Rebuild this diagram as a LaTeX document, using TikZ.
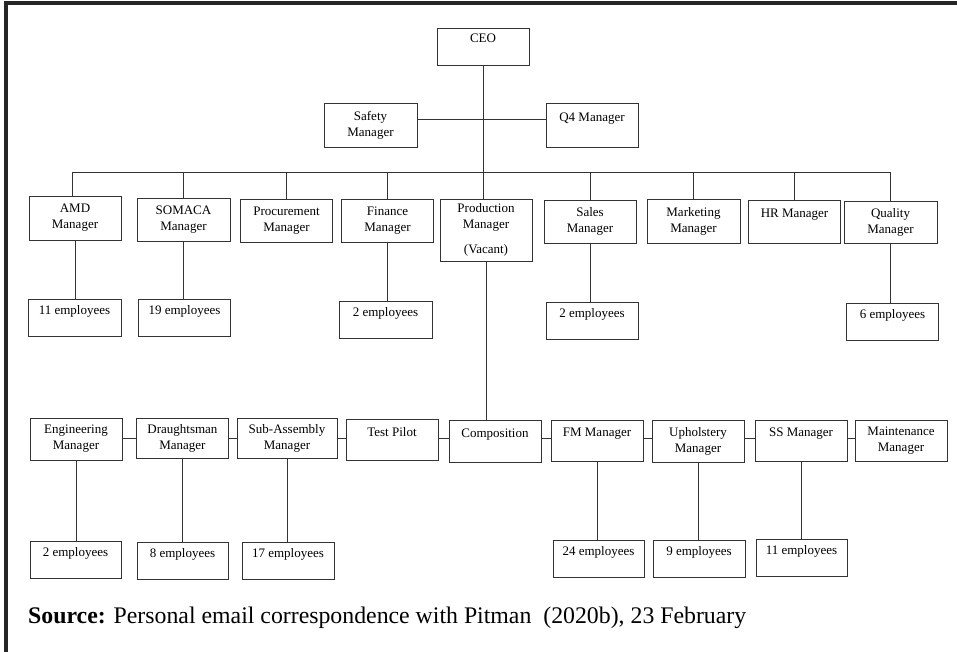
\documentclass[tikz,border=0pt]{standalone}
\usepackage{fontspec}
\setmainfont{Liberation Serif}
\usetikzlibrary{positioning,calc}
\tikzstyle{block} = [draw=black!80, line width=0.9pt, rectangle, align=center, minimum width=92pt, inner sep=2pt, font=\fontsize{13}{16}\selectfont]
\tikzstyle{staff} = [block, minimum height=37pt]
\tikzstyle{link} = [draw=black!80, line width=0.9pt]

\begin{document}
\begin{tikzpicture}[x=1pt, y=-1pt]
    \useasboundingbox (0,0) rectangle (957,652);
    \draw [line width=4pt, black!85] (6,652) -- (6,3) -- (957,3);

    % top of the chart
    \node [block, minimum height=37pt] (ceo) at (483,46.5) {CEO\\~};
    \node [block, minimum height=44pt, minimum width=93pt] (safety) at (370.5,125) {Safety\\Manager};
    \node [block, minimum height=44pt] (q4) at (592,125) {Q4 Manager\\~};

    % managers
    \node [block, minimum height=44pt] (amd) at (75,218) {AMD\\Manager};
    \node [block, minimum height=43pt, minimum width=93pt] (somaca) at (183.5,219.5) {SOMACA\\Manager};
    \node [block, minimum height=43pt] (proc) at (286.5,220.5) {Procurement\\Manager};
    \node [block, minimum height=43pt] (fin) at (387.5,220.5) {Finance\\Manager};
    \node [block, minimum height=62pt] (prod) at (486,230) {Production\\Manager\\[9pt](Vacant)};
    \node [block, minimum height=43pt] (sales) at (590,221.5) {Sales\\Manager};
    \node [block, minimum height=44pt, minimum width=93pt] (mkt) at (693.5,221) {Marketing\\Manager};
    \node [block, minimum height=43pt] (hr) at (794.5,221.5) {HR Manager\\~};
    \node [block, minimum height=42pt, minimum width=93pt] (qual) at (890.5,222) {Quality\\Manager};

    \node [staff, minimum width=93pt] (eamd) at (74.5,317.5) {11 employees\\~};
    \node [staff] (esomaca) at (184.5,318) {19 employees\\~};
    \node [staff, minimum width=93pt] (efin) at (385.5,319.5) {2 employees\\~};
    \node [staff] (esales) at (592,320.5) {2 employees\\~};
    \node [staff] (equal) at (892.5,322) {6 employees\\~};

    % production line
    \node [block, minimum height=42pt] (eng) at (76,439) {Engineering\\Manager};
    \node [block, minimum height=40pt, anchor=west] (draught) at (136,438) {Draughtsman\\Manager};
    \node [block, minimum height=40pt, minimum width=100pt] (sub) at (287,438) {Sub-Assembly\\Manager};
    \node [block, minimum height=41pt] (pilot) at (392,439.5) {Test Pilot\\~};
    \node [block, minimum height=42pt] (comp) at (495,441) {Composition\\~};
    \node [block, minimum height=41pt] (fm) at (597,440.5) {FM Manager\\~};
    \node [block, minimum height=42pt] (uph) at (698,441) {Upholstery\\Manager};
    \node [block, minimum height=41pt] (ss) at (801,440.5) {SS Manager\\~};
    \node [block, minimum height=41pt] (maint) at (901,440.5) {Maintenance\\Manager};

    \node [staff, minimum width=91pt] (eeng) at (75.5,560) {2 employees\\~};
    \node [staff, minimum width=91pt] (edraught) at (182.5,560.5) {8 employees\\~};
    \node [staff] (esub) at (288,560.5) {17 employees\\~};
    \node [staff, minimum width=91pt] (efm) at (598.5,559) {24 employees\\~};
    \node [staff] (euph) at (699,559) {9 employees\\~};
    \node [staff, minimum width=91pt] (ess) at (801.5,557.5) {11 employees\\~};

    \node [anchor=base west, inner sep=0pt, font=\fontsize{23.8}{28}\selectfont] (source) at (28,623) {\textbf{Source:} Personal email correspondence with Pitman\ \ (2020b), 23 February};

    \coordinate (busL) at (72,172);
    \coordinate (busR) at (890,172);
    \coordinate (row) at (0,438);

    \draw [link] (ceo.south) -- (ceo.south |- prod.north);
    \draw [link] ([yshift=6pt]safety.east) -- ([yshift=6pt]q4.west);
    \draw [link] (busL) -- (busR);
    \draw [link] (busL) -- (busL |- amd.north);
    \draw [link] (busR) -- (busR |- qual.north);
    \foreach \m in {somaca,proc,fin,sales,mkt,hr}
        \draw [link] (\m.north |- busL) -- (\m.north);

    \draw [link] (amd.south) -- (amd.south |- eamd.north);
    \draw [link] (somaca.south) -- (somaca.south |- esomaca.north);
    \draw [link] (fin.south) -- (fin.south |- efin.north);
    \draw [link] (sales.south) -- (sales.south |- esales.north);
    \draw [link] (qual.south) -- (qual.south |- equal.north);

    \draw [link] (prod.south) -- (prod.south |- comp.north);
    \draw [link] (eng.east |- row) -- (draught.west |- row);
    \draw [link] (draught.east |- row) -- (sub.west |- row);
    \draw [link] (sub.east |- row) -- (pilot.west |- row);
    \draw [link] (pilot.east |- row) -- (comp.west |- row);
    \draw [link] (comp.east |- row) -- (fm.west |- row);
    \draw [link] (fm.east |- row) -- (uph.west |- row);
    \draw [link] (uph.east |- row) -- (ss.west |- row);
    \draw [link] (ss.east |- row) -- (maint.west |- row);

    \draw [link] (eng.south) -- (eng.south |- eeng.north);
    \draw [link] (draught.south) -- (draught.south |- edraught.north);
    \draw [link] (sub.south) -- (sub.south |- esub.north);
    \draw [link] (fm.south) -- (fm.south |- efm.north);
    \draw [link] (uph.south) -- (uph.south |- euph.north);
    \draw [link] (ss.south) -- (ss.south |- ess.north);
\end{tikzpicture}
\end{document}
